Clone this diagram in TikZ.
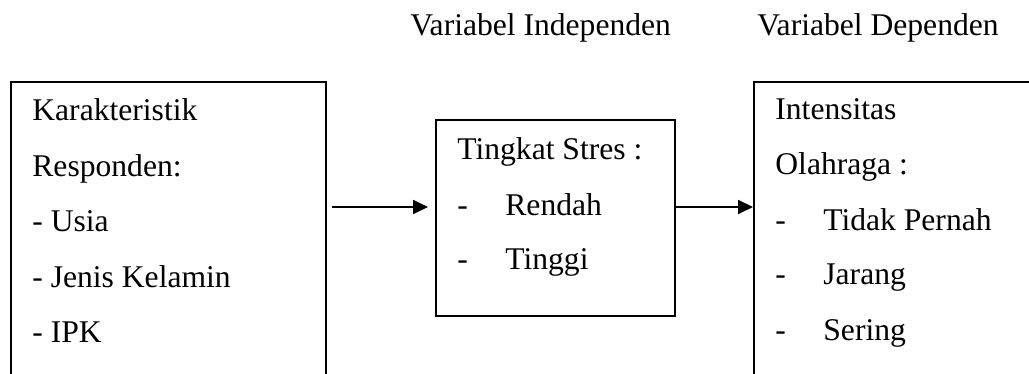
\documentclass[tikz,border=0pt]{standalone}
\usepackage{fontspec}
\setmainfont{Liberation Serif}
\usetikzlibrary{arrows.meta}
\begin{document}
\begin{tikzpicture}[x=0.5pt,y=-0.5pt,
  box/.style={draw=black,line width=0.85pt,inner sep=0pt,anchor=north west},
  txt/.style={anchor=base west,inner sep=0pt,font=\fontsize{15.8}{19}\selectfont},
  arr/.style={-{Triangle[length=7.5pt,width=7pt]},line width=0.9pt}]
\useasboundingbox (0,0) rectangle (1029,374);
\clip (0,0) rectangle (1029,374);
% boxes
\node[box,minimum width=157.5pt,minimum height=169.5pt] (L) at (10,81) {};
\node[box,minimum width=119.5pt,minimum height=98pt] (M) at (435,119) {};
\node[box,minimum width=160pt,minimum height=169.5pt] (R) at (753,81) {};
% headers
\node[txt] (h1) at (410,36) {Variabel Independen};
\node[txt] (h2) at (757,36) {Variabel Dependen};
% left box text
\node[txt] (l1) at (32,121) {Karakteristik};
\node[txt] (l2) at (32,176.5) {Responden:};
\node[txt] (l3) at (32,232) {- Usia};
\node[txt] (l4) at (32,287.5) {- Jenis Kelamin};
\node[txt] (l5) at (32,343) {- IPK};
% middle box text
\node[txt] (m1) at (457,160) {Tingkat Stres :};
\node[txt] (m2d) at (457,215) {-};
\node[txt] (m2) at (505,215) {Rendah};
\node[txt] (m3d) at (457,270) {-};
\node[txt] (m3) at (505,270) {Tinggi};
% right box text
\node[txt] (r1) at (775,120) {Intensitas};
\node[txt] (r2) at (775,175) {Olahraga :};
\node[txt] (r3d) at (775,230) {-};
\node[txt] (r3) at (823,230) {Tidak Pernah};
\node[txt] (r4d) at (775,285) {-};
\node[txt] (r4) at (823,285) {Jarang};
\node[txt] (r5d) at (775,340) {-};
\node[txt] (r5) at (823,340) {Sering};
% arrows
\coordinate (ay) at (0,207);
\draw[arr,shorten <=2.5pt,shorten >=3.5pt] (L.east |- ay) -- (M.west |- ay);
\draw[arr] (M.east |- ay) -- (R.west |- ay);
\end{tikzpicture}
\end{document}
